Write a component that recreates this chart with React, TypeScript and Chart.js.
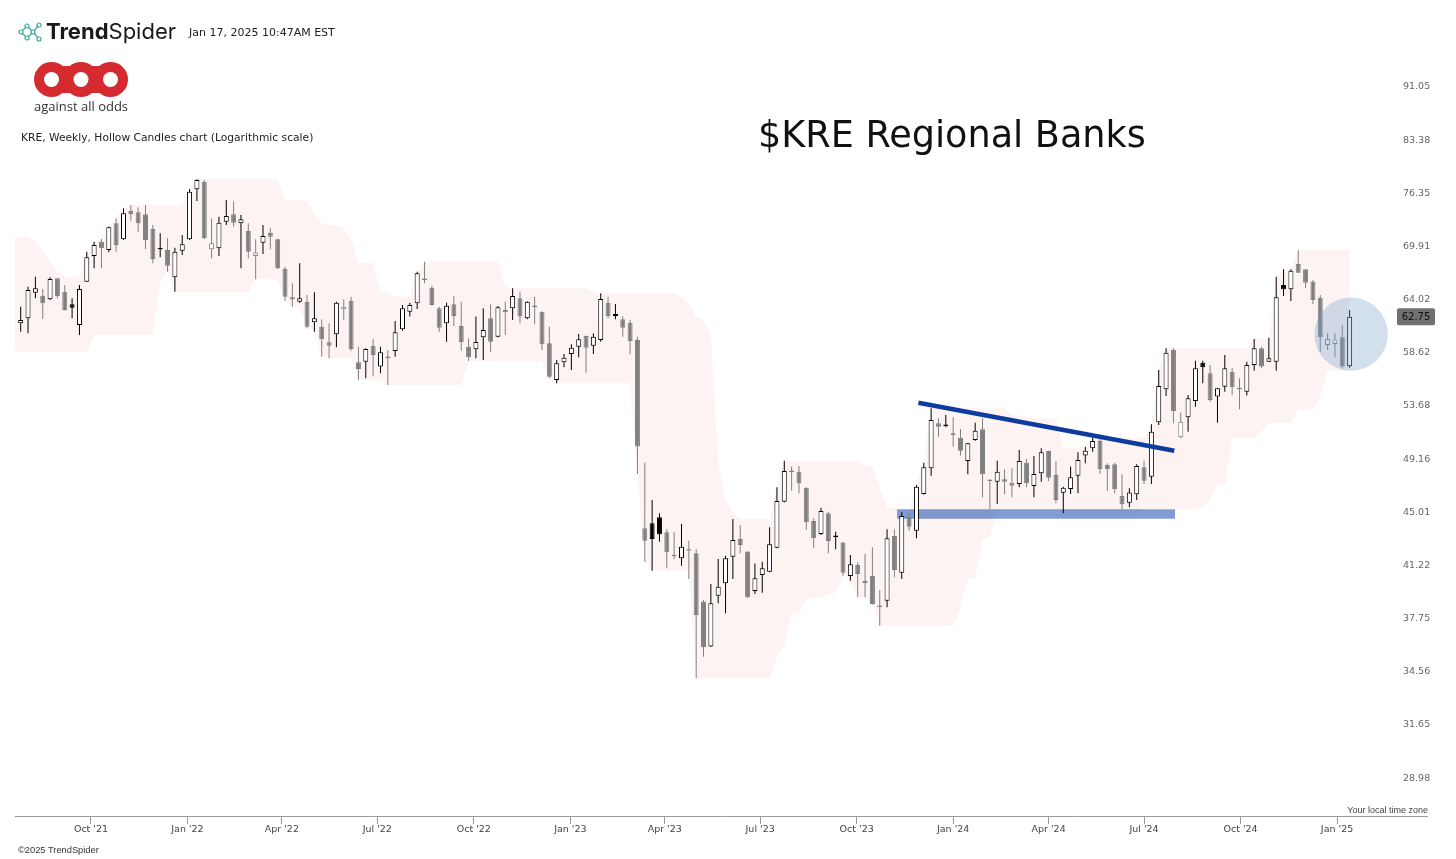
import React, { useEffect, useRef } from 'react';
import { Chart, registerables } from 'chart.js';

Chart.register(...registerables);

// Week index 0 = week of 26 Jul 2021 (weekly candles)
const firstWeek = '2021-07-26';

const opens = [
  62.07, 62.59, 65.30, 64.97, 64.59, 66.88, 65.41, 64.06, 61.90, 66.50,
  69.39, 71.05, 70.08, 73.25, 71.33, 74.79, 74.60, 74.35, 72.56, 70.28,
  70.08, 66.99, 70.00, 71.33, 77.50, 78.48, 70.16, 70.28, 73.44, 74.35,
  73.25, 72.32, 69.39, 70.94, 72.12, 71.33, 67.91, 64.80, 64.33, 64.33,
  62.17, 61.72, 60.15, 60.95, 63.52, 64.44, 58.19, 58.24, 59.81, 57.77,
  58.70, 59.28, 61.45, 63.27, 64.16, 66.80, 65.84, 63.63, 62.07, 64.06,
  61.79, 59.71, 59.45, 60.65, 62.59, 60.71, 63.45, 63.63, 64.70, 62.59,
  63.84, 63.27, 60.05, 56.50, 58.19, 58.99, 59.71, 60.78, 59.81, 60.38,
  64.23, 62.83, 62.48, 62.13, 60.38, 44.20, 44.57, 45.01, 43.90, 42.25,
  42.05, 42.69, 42.41, 39.14, 36.33, 39.53, 40.35, 42.16, 43.42, 42.52,
  39.83, 40.91, 41.13, 42.80, 46.19, 48.57, 48.54, 47.27, 44.74, 43.78,
  45.31, 43.60, 43.16, 40.84, 41.59, 40.50, 40.84, 38.84, 39.20, 43.64,
  41.06, 45.03, 44.02, 46.78, 48.81, 52.59, 52.42, 51.73, 51.35, 49.41,
  51.16, 52.07, 47.84, 47.74, 47.93, 47.66, 47.56, 49.27, 47.41, 48.41,
  50.23, 48.28, 46.88, 47.17, 48.22, 49.85, 50.46, 51.07, 49.08, 49.14,
  46.63, 46.11, 46.76, 48.89, 48.14, 52.68, 55.64, 59.38, 51.38, 53.12,
  54.57, 58.15, 57.14, 54.97, 55.88, 57.29, 55.70, 55.42, 57.93, 59.55,
  58.24, 58.24, 66.14, 65.67, 68.48, 67.88, 66.50, 64.76, 59.88, 59.98,
  60.65, 57.80,
];

const highs = [
  63.80, 65.95, 67.05, 65.70, 66.99, 66.90, 66.14, 64.70, 66.14, 69.89,
  71.05, 71.37, 72.85, 73.86, 75.10, 75.51, 75.22, 75.51, 73.05, 72.05,
  71.45, 70.35, 71.85, 77.54, 78.79, 78.70, 73.86, 74.06, 76.14, 75.93,
  74.27, 73.25, 71.33, 73.05, 72.65, 71.40, 68.17, 66.33, 68.56, 65.05,
  65.35, 62.48, 62.07, 64.33, 64.59, 64.86, 59.71, 59.55, 60.45, 59.71,
  59.38, 62.31, 63.98, 64.23, 67.61, 68.74, 66.06, 63.80, 64.23, 64.94,
  64.33, 60.55, 62.76, 63.63, 64.06, 63.87, 64.33, 65.78, 65.41, 64.38,
  64.86, 63.30, 61.72, 58.41, 58.99, 59.95, 60.98, 60.82, 61.05, 65.23,
  64.86, 64.09, 62.76, 62.41, 60.71, 49.27, 46.32, 45.31, 44.12, 43.90,
  44.51, 43.30, 42.69, 39.25, 40.30, 42.00, 42.23, 44.88, 44.44, 42.55,
  41.70, 41.81, 44.27, 47.30, 49.43, 48.95, 49.00, 47.30, 44.93, 45.73,
  45.43, 43.95, 43.20, 42.29, 41.77, 42.36, 42.83, 39.90, 44.12, 44.12,
  45.38, 45.31, 47.48, 49.27, 53.91, 53.03, 53.32, 53.12, 52.10, 50.91,
  52.65, 53.03, 47.90, 49.43, 48.73, 48.81, 50.32, 49.57, 49.82, 50.46,
  50.26, 49.41, 47.35, 48.95, 50.13, 50.59, 51.35, 51.35, 49.22, 49.27,
  48.33, 47.22, 49.14, 49.43, 52.51, 57.45, 59.55, 59.55, 53.53, 55.12,
  58.34, 58.34, 57.93, 55.76, 58.89, 57.61, 56.66, 58.24, 60.48, 59.71,
  60.61, 67.05, 67.88, 67.88, 70.08, 67.92, 66.69, 65.05, 61.05, 61.05,
  61.90, 63.45,
];

const lows = [
  61.21, 61.05, 64.70, 62.51, 64.51, 64.70, 63.40, 62.59, 60.88, 66.45,
  67.99, 67.99, 69.82, 69.89, 71.25, 73.57, 72.24, 70.20, 68.56, 69.24,
  67.61, 65.41, 69.51, 71.25, 76.01, 71.33, 69.12, 69.39, 73.05, 72.85,
  67.99, 69.12, 66.77, 69.62, 70.16, 67.91, 64.44, 63.80, 64.23, 61.56,
  61.21, 58.73, 58.57, 59.65, 62.41, 59.31, 56.50, 56.66, 56.88, 57.14,
  56.04, 58.73, 61.31, 62.76, 63.56, 66.33, 63.93, 61.21, 60.21, 61.79,
  59.31, 58.31, 58.57, 58.41, 59.22, 60.65, 60.88, 62.41, 62.07, 62.48,
  61.97, 59.38, 56.66, 56.19, 57.71, 57.45, 58.67, 57.19, 58.99, 60.21,
  62.59, 62.48, 60.71, 58.96, 48.36, 41.81, 41.20, 43.23, 41.37, 41.98,
  41.54, 40.64, 34.47, 35.73, 36.30, 39.03, 38.39, 40.64, 42.41, 39.36,
  39.64, 39.72, 41.09, 42.76, 46.14, 47.04, 46.84, 44.07, 42.76, 43.71,
  42.41, 42.69, 40.86, 40.52, 39.42, 39.42, 38.96, 37.61, 38.78, 40.75,
  40.64, 44.02, 43.47, 46.74, 48.22, 51.44, 52.25, 50.59, 49.85, 48.33,
  51.10, 46.50, 45.61, 46.01, 46.76, 46.53, 47.30, 47.30, 46.53, 47.74,
  47.80, 46.06, 45.31, 46.78, 46.84, 49.22, 50.18, 48.36, 47.01, 46.84,
  45.63, 45.76, 46.32, 47.56, 47.56, 52.45, 55.03, 52.59, 51.30, 51.87,
  54.06, 56.19, 54.51, 52.64, 55.42, 55.12, 53.83, 55.06, 57.38, 57.61,
  58.22, 57.38, 64.94, 64.41, 67.47, 65.78, 64.09, 59.22, 59.38, 58.67,
  57.61, 57.67,
];

const closes = [
  62.41, 65.59, 65.78, 64.16, 66.80, 64.94, 63.45, 63.70, 65.70, 69.24,
  70.67, 70.28, 72.77, 70.67, 74.47, 74.39, 73.25, 71.25, 69.05, 70.18,
  68.29, 69.89, 70.75, 77.19, 78.70, 71.45, 70.86, 73.33, 74.14, 73.33,
  73.74, 69.89, 69.79, 71.73, 71.64, 67.99, 64.86, 64.59, 64.70, 61.72,
  62.59, 60.45, 59.81, 64.23, 63.80, 59.48, 57.55, 59.48, 58.89, 59.16,
  58.60, 61.15, 63.63, 63.98, 67.43, 66.69, 63.98, 61.62, 63.91, 62.83,
  60.15, 58.67, 60.18, 61.38, 60.21, 63.74, 63.21, 64.94, 62.76, 64.33,
  63.77, 59.95, 56.81, 58.09, 58.63, 59.61, 60.45, 59.61, 60.71, 64.62,
  62.83, 63.04, 61.62, 60.28, 50.60, 43.30, 43.42, 43.76, 42.48, 42.20,
  42.87, 42.59, 38.29, 36.29, 39.03, 40.12, 42.05, 43.35, 42.99, 39.42,
  40.69, 41.37, 43.04, 46.24, 48.60, 48.52, 47.62, 44.64, 43.47, 45.48,
  43.28, 43.57, 41.06, 41.64, 40.98, 40.35, 38.99, 38.80, 43.47, 41.25,
  45.11, 44.31, 47.35, 48.89, 52.88, 52.30, 52.36, 51.58, 50.26, 50.88,
  51.95, 48.33, 47.80, 48.54, 47.74, 47.43, 49.41, 47.62, 48.36, 50.13,
  48.06, 46.32, 47.27, 48.09, 49.49, 50.26, 51.07, 48.76, 48.73, 47.17,
  45.99, 46.89, 49.00, 47.82, 51.87, 55.95, 59.12, 53.67, 52.73, 54.81,
  57.61, 57.72, 54.66, 55.73, 57.61, 55.83, 55.64, 57.93, 59.55, 57.77,
  58.57, 64.80, 65.67, 67.72, 67.50, 66.39, 64.51, 60.65, 60.48, 60.43,
  57.77, 62.75,
];

// Channel band outline (week index, price)
const upperBandWeeks = [
  -1, 1, 2, 3, 4, 5, 6, 8, 9, 10, 11, 12, 13, 14, 15, 22, 23, 24, 35, 36,
  38, 39, 40, 41, 42, 43, 44, 45, 46, 48, 49, 50, 51, 53, 54, 55, 65, 66, 67, 77,
  78, 79, 89, 90, 91, 92, 93, 94, 95, 96, 97, 98, 102, 103, 104, 114, 115, 116, 117, 118,
  119, 120, 121, 122, 123, 124, 134, 135, 136, 137, 138, 141, 142, 144, 145, 146, 153, 154, 155, 156,
  167, 168, 170, 171, 172, 173, 174, 181,
];
const upperBandPrices = [
  71.61, 71.61, 71.13, 70.08, 68.70, 67.69, 67.05, 67.05, 69.89, 71.05, 71.37, 72.85, 73.86, 75.10, 75.51, 75.51, 77.54, 78.79, 78.79, 76.14,
  76.14, 75.93, 74.27, 73.25, 73.05, 73.05, 72.65, 71.33, 68.56, 68.56, 65.35, 65.35, 64.86, 64.86, 67.61, 68.74, 68.74, 66.06, 65.78, 65.78,
  65.41, 65.23, 65.23, 64.86, 64.09, 62.76, 62.41, 60.71, 49.27, 46.32, 45.31, 44.88, 44.88, 47.30, 49.43, 49.43, 49.00, 49.00, 47.27, 45.73,
  45.73, 45.43, 45.38, 47.48, 49.27, 53.91, 53.91, 53.32, 53.32, 53.12, 53.03, 53.03, 50.46, 50.46, 50.59, 51.35, 51.35, 52.51, 57.45, 59.55,
  59.55, 60.48, 60.48, 67.05, 67.88, 67.88, 70.08, 70.08,
];
const lowerBandWeeks = [
  -1, 9, 10, 18, 19, 20, 21, 31, 32, 35, 36, 37, 38, 39, 40, 41, 42, 45, 46, 49,
  50, 60, 61, 71, 72, 73, 83, 84, 85, 86, 91, 92, 102, 103, 104, 105, 106, 107, 109, 110,
  111, 112, 113, 114, 115, 116, 117, 127, 128, 129, 130, 131, 132, 133, 141, 142, 152, 153, 160, 161,
  162, 163, 164, 165, 168, 169, 170, 173, 174, 176, 177, 178, 181,
];
const lowerBandPrices = [
  59.22, 59.22, 60.88, 60.88, 66.50, 67.61, 65.41, 65.41, 66.77, 66.77, 64.44, 63.80, 63.80, 61.56, 61.21, 58.73, 58.57, 58.57, 56.50, 56.50,
  56.04, 56.04, 58.31, 58.31, 56.66, 56.19, 56.19, 48.36, 41.81, 41.20, 41.20, 34.47, 34.47, 35.73, 36.33, 38.39, 38.39, 39.36, 39.36, 39.64,
  39.72, 40.86, 40.52, 39.42, 39.42, 38.96, 37.61, 37.61, 38.78, 40.64, 40.64, 43.47, 43.47, 45.61, 45.61, 45.31, 45.31, 45.63, 45.63, 45.76,
  46.32, 47.56, 47.56, 51.30, 51.30, 51.87, 52.64, 52.64, 53.83, 53.83, 55.06, 57.38, 57.38,
];

// Annotations (week index, price)
const trendWeeks = [122.26, 157.12];
const trendPrices = [54.42, 50.26];
const zoneWeeks = [119.36, 157.22];
const zoneTopPrice = 45.61;
const zoneBottomPrice = 44.90;
const circleWeek = 181.2;
const circlePrice = 60.96;

const yTickValues = [28.98, 31.65, 34.56, 37.75, 41.22, 45.01, 49.16, 53.68, 58.62, 64.02, 69.91, 76.35, 83.38, 91.05];
const xTickDates = ['2021-10-01', '2022-01-01', '2022-04-01', '2022-07-01', '2022-10-01', '2023-01-01', '2023-04-01',
  '2023-07-01', '2023-10-01', '2024-01-01', '2024-04-01', '2024-07-01', '2024-10-01', '2025-01-01'];
const xTickLabels = ["Oct '21", "Jan '22", "Apr '22", "Jul '22", "Oct '22", "Jan '23", "Apr '23",
  "Jul '23", "Oct '23", "Jan '24", "Apr '24", "Jul '24", "Oct '24", "Jan '25"];

const W = 1456;
const H = 859;

export default function App() {
  const canvasRef = useRef<HTMLCanvasElement | null>(null);

  useEffect(() => {
    const canvas = canvasRef.current;
    if (!canvas) return;
    Chart.defaults.font.family = "'DejaVu Sans', sans-serif";

    const weekMs = 7 * 86400000;
    const weekOf = (d: string) => (Date.parse(d) - Date.parse(firstWeek)) / weekMs;
    const xTickWeeks = xTickDates.map(weekOf);

    const up = closes.map((c, i) => i === 0 || c >= closes[i - 1]);
    const hollow = closes.map((c, i) => c > opens[i]);
    const lineCol = up.map((u) => (u ? '#000000' : '#808080'));
    const bodyFill = hollow.map((h, i) => (h ? '#ffffff' : lineCol[i]));

    const bodies = closes.map((c, i) => ({ x: i, y: [Math.min(opens[i], c), Math.max(opens[i], c)] }));
    const wicks = closes.map((_, i) => ({ x: i, y: [lows[i], highs[i]] }));

    const overlay = {
      id: 'overlay',
      afterDraw(chart: any) {
        const { ctx, chartArea } = chart;
        ctx.save();
        ctx.strokeStyle = '#9a9a9a';
        ctx.lineWidth = 1;
        ctx.beginPath();
        ctx.moveTo(chartArea.left, chartArea.bottom + 0.5);
        ctx.lineTo(1428, chartArea.bottom + 0.5);
        ctx.stroke();
        const last = closes[closes.length - 1];
        const py = chart.scales.y.getPixelForValue(last);
        const bx = 1397, bw = 38, bh = 17;
        ctx.fillStyle = '#707070';
        ctx.beginPath();
        ctx.roundRect(bx, py - bh / 2, bw, bh, 2);
        ctx.fill();
        ctx.fillStyle = '#111111';
        ctx.font = "10px 'DejaVu Sans'";
        ctx.textAlign = 'center';
        ctx.textBaseline = 'middle';
        ctx.fillText(last.toFixed(2), bx + bw / 2, py + 0.5);
        ctx.restore();
      },
    };

    const chart = new Chart(canvas, {
      type: 'bar',
      data: {
        datasets: [
          {
            type: 'bubble',
            data: [{ x: circleWeek, y: circlePrice, r: 36.7 }],
            backgroundColor: 'rgba(115,155,198,0.32)',
            borderColor: 'rgba(0,0,0,0)',
            borderWidth: 0,
            order: 0,
          } as any,
          {
            type: 'line',
            data: trendWeeks.map((w, i) => ({ x: w, y: trendPrices[i] })),
            borderColor: '#0e3c9e',
            borderWidth: 4.5,
            pointRadius: 0,
            fill: false,
            order: 1,
          } as any,
          {
            type: 'bar',
            data: bodies,
            backgroundColor: bodyFill,
            borderColor: lineCol,
            borderWidth: 1,
            borderSkipped: false,
            barThickness: 5,
            minBarLength: 1.5,
            grouped: false,
            inflateAmount: 0,
            order: 2,
          } as any,
          {
            type: 'bar',
            data: wicks,
            backgroundColor: lineCol,
            borderWidth: 0,
            barThickness: 1,
            grouped: false,
            inflateAmount: 0,
            order: 3,
          } as any,
          {
            type: 'line',
            data: zoneWeeks.map((w) => ({ x: w, y: zoneTopPrice })),
            borderColor: 'rgba(0,0,0,0)',
            borderWidth: 0,
            pointRadius: 0,
            fill: '+1',
            backgroundColor: 'rgba(45,90,180,0.6)',
            order: 4,
          } as any,
          {
            type: 'line',
            data: zoneWeeks.map((w) => ({ x: w, y: zoneBottomPrice })),
            borderColor: 'rgba(0,0,0,0)',
            borderWidth: 0,
            pointRadius: 0,
            fill: false,
            order: 5,
          } as any,
          {
            type: 'line',
            data: upperBandWeeks.map((w, i) => ({ x: w, y: upperBandPrices[i] })),
            borderColor: 'rgba(0,0,0,0)',
            borderWidth: 0,
            pointRadius: 0,
            tension: 0,
            fill: '+1',
            backgroundColor: 'rgb(253,243,243)',
            order: 6,
          } as any,
          {
            type: 'line',
            data: lowerBandWeeks.map((w, i) => ({ x: w, y: lowerBandPrices[i] })),
            borderColor: 'rgba(0,0,0,0)',
            borderWidth: 0,
            pointRadius: 0,
            tension: 0,
            fill: false,
            order: 7,
          } as any,
        ],
      },
      options: {
        responsive: false,
        animation: false,
        devicePixelRatio: 1,
        events: [],
        layout: { autoPadding: false, padding: { left: 15, top: 40, right: 0, bottom: 0 } },
        plugins: { legend: { display: false }, tooltip: { enabled: false } },
        scales: {
          x: {
            type: 'linear',
            min: -0.7764,
            max: 187.18,
            bounds: 'data',
            offset: false,
            afterBuildTicks: (s: any) => {
              s.ticks = xTickWeeks.map((v) => ({ value: v }));
            },
            afterFit: (s: any) => {
              s.height = 43;
            },
            ticks: {
              autoSkip: false,
              maxRotation: 0,
              padding: 0,
              color: '#444444',
              font: { size: 9.5, family: "'DejaVu Sans'" },
              callback: (_v: any, i: number) => xTickLabels[i],
            },
            grid: { display: true, drawOnChartArea: false, drawTicks: true, tickLength: 8, color: '#9a9a9a', offset: false },
            border: { display: false },
          },
          y: {
            type: 'logarithmic',
            position: 'right',
            min: 27.44,
            max: 99.24,
            bounds: 'data',
            afterBuildTicks: (s: any) => {
              s.ticks = yTickValues.map((v) => ({ value: v }));
            },
            afterFit: (s: any) => {
              s.width = 61;
            },
            ticks: {
              autoSkip: false,
              padding: 8,
              labelOffset: -5,
              color: '#666666',
              font: { size: 9.5, family: "'DejaVu Sans'" },
              callback: (v: any) => Number(v).toFixed(2),
            },
            grid: { display: false, drawTicks: false },
            border: { display: false },
          },
        },
      } as any,
      plugins: [overlay],
    });

    return () => chart.destroy();
  }, []);

  const abs = (left: number, top: number): React.CSSProperties => ({ position: 'absolute', left, top, whiteSpace: 'nowrap' });

  return (
    <div style={{ position: 'absolute', left: 0, top: 0, width: W, height: H, background: '#ffffff', overflow: 'hidden' }}>
      <canvas ref={canvasRef} width={W} height={H} style={{ position: 'absolute', left: 0, top: 0, width: W, height: H }} />

      <svg style={{ position: 'absolute', left: 18, top: 21 }} width={25} height={22} viewBox="0 0 25 22">
        <g stroke="#3aa79a" strokeWidth={1.2} fill="none">
          <line x1={3} y1={11} x2={9} y2={5} />
          <line x1={3} y1={11} x2={9} y2={17} />
          <line x1={9} y1={5} x2={15} y2={11} />
          <line x1={9} y1={17} x2={15} y2={11} />
          <line x1={15} y1={11} x2={21} y2={4} />
          <line x1={15} y1={11} x2={21} y2={18} />
          <circle cx={3} cy={11} r={2} fill="#fff" />
          <circle cx={9} cy={5} r={2} fill="#fff" />
          <circle cx={9} cy={17} r={2} fill="#fff" />
          <circle cx={15} cy={11} r={2} fill="#fff" />
          <circle cx={21} cy={4} r={2} fill="#fff" />
          <circle cx={21} cy={18} r={2} fill="#fff" />
        </g>
      </svg>
      <div style={{ ...abs(46, 18), fontFamily: 'Inter, sans-serif', fontSize: 22, lineHeight: '26px', color: '#1a1a1a' }}>
        <span style={{ fontWeight: 700 }}>Trend</span>
        <span style={{ fontWeight: 400 }}>Spider</span>
      </div>
      <div style={{ ...abs(189, 26), fontFamily: "'DejaVu Sans', sans-serif", fontSize: 11, lineHeight: '13px', color: '#222' }}>
        Jan 17, 2025 10:47AM EST
      </div>

      <svg style={{ position: 'absolute', left: 34, top: 62 }} width={94} height={35} viewBox="0 0 94 35">
        <g fill="#d52a2f">
          <circle cx={17.5} cy={17.5} r={17.5} />
          <circle cx={47} cy={17.5} r={17.5} />
          <circle cx={76.5} cy={17.5} r={17.5} />
          <rect x={17.5} y={4} width={59} height={27} />
        </g>
        <g fill="#ffffff">
          <circle cx={17.5} cy={17.5} r={7.5} />
          <circle cx={47} cy={17.5} r={7.5} />
          <circle cx={76.5} cy={17.5} r={7.5} />
        </g>
      </svg>
      <div style={{ ...abs(34, 97.5), fontFamily: "'Open Sans', sans-serif", fontSize: 13, lineHeight: '17px', color: '#333' }}>
        against all odds
      </div>

      <div style={{ ...abs(21, 131), fontFamily: "'DejaVu Sans', sans-serif", fontSize: 10.7, lineHeight: '13px', color: '#222' }}>
        KRE, Weekly, Hollow Candles chart (Logarithmic scale)
      </div>

      <div style={{ ...abs(758, 112.5), fontFamily: "'DejaVu Sans', sans-serif", fontSize: 36.6, lineHeight: '44px', color: '#111' }}>
        $KRE Regional Banks
      </div>

      <div style={{ position: 'absolute', right: W - 1428, top: 804.5, whiteSpace: 'nowrap', fontFamily: "'Liberation Sans', sans-serif", fontSize: 9, lineHeight: '11px', color: '#444' }}>
        Your local time zone
      </div>
      <div style={{ ...abs(18, 845), fontFamily: "'Liberation Sans', sans-serif", fontSize: 9.3, lineHeight: '11px', color: '#333' }}>
        ©2025 TrendSpider
      </div>
    </div>
  );
}
